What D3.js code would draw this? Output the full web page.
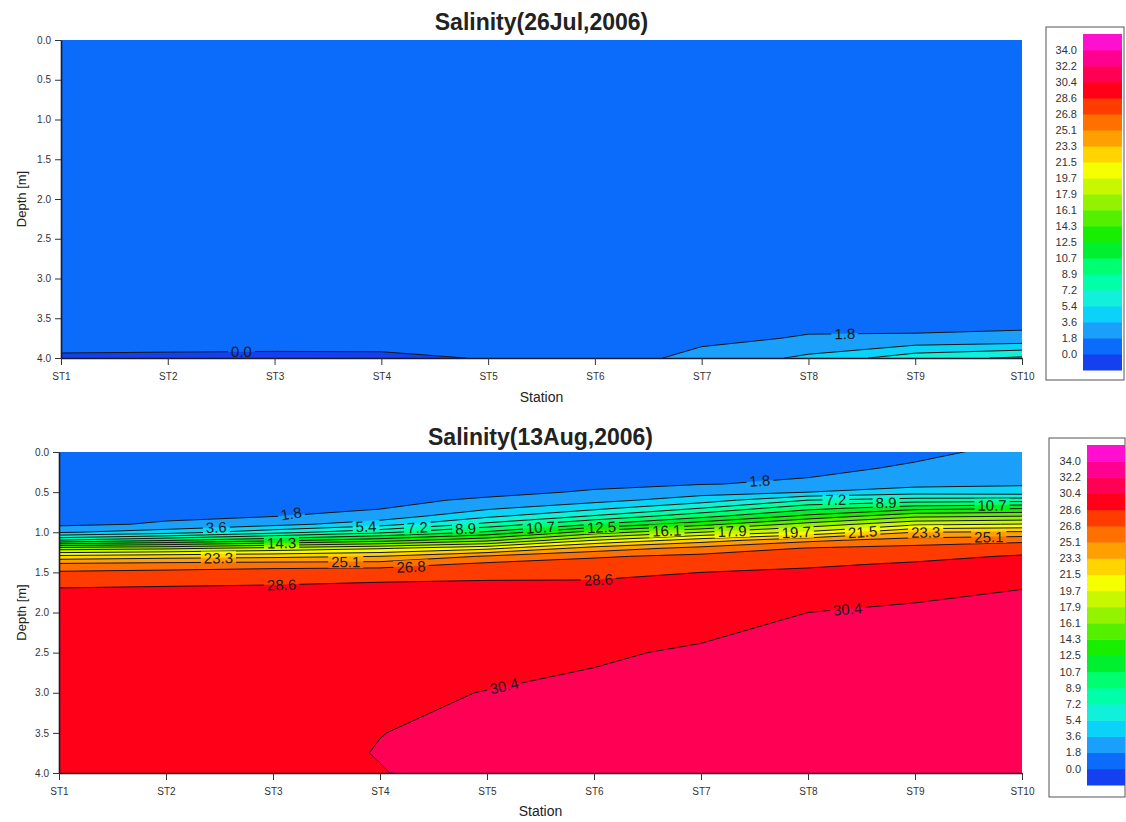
<!DOCTYPE html>
<html>
<head>
<meta charset="utf-8">
<script src="https://cdn.jsdelivr.net/npm/d3@7"></script>
<style>
body { margin: 0; background: #fff; }
text { font-family: "Liberation Sans", Arial, sans-serif; }
</style>
</head>
<body>
<div class="chart"></div>
<script>
// Chart size
var svgWidth = 1126;
var svgHeight = 822;

// Stations along the section and sampled depths (m)
var stations = ["ST1", "ST2", "ST3", "ST4", "ST5", "ST6", "ST7", "ST8", "ST9", "ST10"];
var depths = [0, 0.2, 0.4, 0.5, 0.6, 0.7, 0.8, 0.9, 1.0, 1.1, 1.2, 1.3, 1.4, 1.5, 1.7, 2.0, 2.5, 3.0, 3.5, 3.75, 4.0];
var depthTicks = [0, 0.5, 1.0, 1.5, 2.0, 2.5, 3.0, 3.5, 4.0];

// Contour levels and the fill of each band (below 0.0 ... above 34.0)
var levels = [0.0, 1.8, 3.6, 5.4, 7.2, 8.9, 10.7, 12.5, 14.3, 16.1, 17.9, 19.7, 21.5, 23.3, 25.1, 26.8, 28.6, 30.4, 32.2, 34.0];
var levelColors = ["#1440f0", "#0b6cfb", "#1aa0fa", "#0ad2f8", "#10f0da", "#00ffa8", "#00ff70", "#00f030",
  "#18ee00", "#55f000", "#92f200", "#c8f800", "#f5ff00", "#ffd400", "#ffa000", "#ff7000",
  "#ff3c00", "#ff0018", "#ff0055", "#ff0090", "#ff10d0"];

// Salinity, one column per station, values at the depths above (26 Jul 2006)
var salinityJul = [
  [0.9, 0.9, 0.9, 0.9, 0.9, 0.9, 0.9, 0.9, 0.9, 0.9, 0.9, 0.9, 0.9, 0.9, 0.9, 0.9, 0.9, 0.85, 0.8, 0.6, -0.2],
  [0.9, 0.9, 0.9, 0.9, 0.9, 0.9, 0.9, 0.9, 0.9, 0.9, 0.9, 0.9, 0.9, 0.9, 0.9, 0.9, 0.9, 0.85, 0.8, 0.6, -0.25],
  [0.9, 0.9, 0.9, 0.9, 0.9, 0.9, 0.9, 0.9, 0.9, 0.9, 0.9, 0.9, 0.9, 0.9, 0.9, 0.9, 0.9, 0.85, 0.8, 0.6, -0.3],
  [0.9, 0.9, 0.9, 0.9, 0.9, 0.9, 0.9, 0.9, 0.9, 0.9, 0.9, 0.9, 0.9, 0.9, 0.9, 0.9, 0.9, 0.85, 0.8, 0.65, -0.3],
  [0.9, 0.9, 0.9, 0.9, 0.9, 0.9, 0.9, 0.9, 0.9, 0.9, 0.9, 0.9, 0.9, 0.9, 0.9, 0.9, 0.9, 0.9, 0.9, 0.8, 0.08],
  [0.9, 0.9, 0.9, 0.9, 0.9, 0.9, 0.9, 0.9, 0.9, 0.9, 0.9, 0.9, 0.9, 0.9, 0.9, 0.9, 0.9, 0.9, 0.95, 1.0, 1.1],
  [0.9, 0.9, 0.9, 0.9, 0.9, 0.9, 0.9, 0.9, 0.9, 0.9, 0.9, 0.9, 0.9, 0.9, 0.9, 0.95, 1.0, 1.1, 1.2, 1.5, 2.2],
  [0.9, 0.9, 0.9, 0.9, 0.9, 0.9, 0.9, 0.9, 0.9, 0.9, 0.9, 0.9, 0.9, 0.9, 0.9, 1.0, 1.1, 1.2, 1.4, 1.9, 4.0],
  [0.9, 0.9, 0.9, 0.9, 0.9, 0.9, 0.9, 0.9, 0.9, 0.9, 0.9, 0.9, 0.9, 0.9, 0.9, 0.95, 1.0, 1.1, 1.2, 2.0, 6.5],
  [0.9, 0.9, 0.9, 0.9, 0.9, 0.9, 0.9, 0.9, 0.9, 0.9, 0.9, 0.9, 0.9, 0.9, 0.9, 0.95, 1.0, 1.1, 1.2, 2.2, 7.5]
];

// Salinity (13 Aug 2006)
var salinityAug = [
  [1.0, 1.0, 1.1, 1.1, 1.2, 1.2, 1.3, 1.4, 3.4, 9.0, 17.0, 22.0, 25.5, 27.0, 28.65, 29.2, 29.6, 29.7, 29.85, 29.9, 30.0],
  [1.0, 1.0, 1.1, 1.2, 1.3, 1.4, 1.5, 2.0, 4.5, 10.5, 17.5, 22.5, 25.8, 27.2, 28.8, 29.3, 29.7, 29.9, 30.0, 30.0, 30.1],
  [1.0, 1.0, 1.2, 1.3, 1.4, 1.6, 1.75, 3.0, 6.5, 12.0, 18.5, 22.8, 26.0, 27.5, 28.9, 29.4, 29.8, 30.0, 30.05, 29.95, 30.15],
  [1.0, 1.1, 1.3, 1.4, 1.55, 1.7, 2.6, 4.6, 8.5, 13.5, 19.5, 23.3, 26.0, 27.8, 29.1, 29.6, 29.9, 30.25, 30.38, 30.45, 30.35],
  [1.1, 1.2, 1.4, 1.55, 1.95, 3.3, 5.0, 7.7, 11.0, 15.6, 21.0, 25.3, 27.2, 28.1, 29.1, 29.55, 30.1, 30.42, 30.7, 30.8, 30.9],
  [1.2, 1.3, 1.6, 1.9, 3.0, 4.9, 7.4, 10.7, 15.2, 19.7, 24.1, 26.6, 27.5, 28.2, 29.05, 29.55, 30.25, 30.65, 30.95, 31.05, 31.15],
  [1.3, 1.45, 1.75, 2.9, 4.5, 7.2, 10.1, 13.6, 17.9, 22.4, 25.7, 27.2, 27.9, 28.6, 29.3, 29.9, 30.55, 30.9, 31.15, 31.25, 31.35],
  [1.4, 1.5, 2.0, 3.6, 7.2, 10.1, 13.0, 16.8, 20.0, 24.7, 26.9, 27.6, 28.35, 28.9, 29.6, 30.4, 30.85, 31.1, 31.3, 31.4, 31.5],
  [1.55, 1.95, 3.0, 4.6, 8.0, 11.8, 15.7, 19.3, 23.3, 25.9, 27.3, 28.15, 28.8, 29.25, 29.95, 30.7, 31.05, 31.25, 31.45, 31.55, 31.6],
  [2.1, 2.6, 3.4, 4.4, 8.2, 12.3, 16.1, 19.8, 23.6, 26.4, 27.8, 28.75, 29.2, 29.55, 30.38, 30.85, 31.15, 31.35, 31.55, 31.65, 31.7]
];

// Contour labels: [level, station position]
var labelsJul = [[0.0, 2.69], [1.8, 8.34]];
var labelsAug = [[1.8, 3.17], [1.8, 7.55], [3.6, 2.47], [5.4, 3.87], [7.2, 4.35], [8.9, 4.8], [10.7, 5.5],
  [12.5, 6.07], [14.3, 3.08], [16.1, 6.68], [17.9, 7.29], [19.7, 7.89], [21.5, 8.51], [23.3, 2.49],
  [23.3, 9.1], [25.1, 3.68], [25.1, 9.69], [26.8, 4.29], [28.6, 3.08], [28.6, 6.04], [30.4, 5.16],
  [30.4, 8.37], [7.2, 8.26], [8.9, 8.73], [10.7, 9.72]];

var panels = [
  {id: "jul", title: "Salinity(26Jul,2006)", grid: salinityJul, labels: labelsJul,
   left: 61, right: 1022, top: 40, bottom: 358, titleY: 30, stationY: 402,
   legend: {x: 1046, y: 27, w: 78, h: 353, barX: 1083, barW: 39, barTop: 34, barBottom: 370}},
  {id: "aug", title: "Salinity(13Aug,2006)", grid: salinityAug, labels: labelsAug,
   left: 59, right: 1022, top: 452, bottom: 773, titleY: 445, stationY: 816,
   legend: {x: 1049, y: 438, w: 76, h: 359, barX: 1087, barW: 38, barTop: 445, barBottom: 785}}
];

var svg = d3.select(".chart").append("svg")
  .attr("width", svgWidth)
  .attr("height", svgHeight);

var nx = stations.length;
var ny = depths.length;
var fmt = d3.format(".1f");

// grid index -> station number / depth
var idxX = d3.scaleLinear().domain([0, nx - 1]).range([1, nx]);
var idxY = d3.scaleLinear().domain(d3.range(ny)).range(depths);

panels.forEach(function(p) {
  var x = d3.scaleLinear().domain([1, nx]).range([p.left, p.right]);
  var y = d3.scaleLinear().domain([0, 4]).range([p.top, p.bottom]);
  var xAxisScale = d3.scalePoint().domain(stations).range([p.left, p.right]);

  // row-major values for d3.contours
  var values = [];
  for (var j = 0; j < ny; j++) {
    for (var i = 0; i < nx; i++) values.push(p.grid[i][j]);
  }
  var contours = d3.contours().size([nx, ny]).thresholds(levels)(values);

  var proj = d3.geoTransform({
    point: function(px, py) {
      this.stream.point(x(idxX(px - 0.5)), y(idxY(py - 0.5)));
    }
  });
  var path = d3.geoPath(proj);

  var defs = svg.append("defs");
  defs.append("clipPath").attr("id", "clip-" + p.id)
    .append("rect")
    .attr("x", p.left).attr("y", p.top)
    .attr("width", p.right - p.left).attr("height", p.bottom - p.top);

  var plot = svg.append("g").attr("clip-path", "url(#clip-" + p.id + ")");

  plot.append("rect")
    .attr("x", p.left).attr("y", p.top)
    .attr("width", p.right - p.left).attr("height", p.bottom - p.top)
    .attr("fill", levelColors[0]);

  plot.append("g").selectAll("path")
    .data(contours)
    .enter().append("path")
    .attr("d", path)
    .attr("fill", function(d, k) { return levelColors[k + 1]; })
    .attr("stroke", function(d, k) { return levelColors[k + 1]; })
    .attr("stroke-width", 0.5);

  // depth where a level crosses the (interpolated) profile at a station position
  function depthOfLevel(level, st) {
    var i0 = Math.max(0, Math.min(nx - 2, Math.floor(st - 1)));
    var f = (st - 1) - i0;
    var col = depths.map(function(d, jj) {
      return p.grid[i0][jj] * (1 - f) + p.grid[i0 + 1][jj] * f;
    });
    for (var jj = 0; jj < ny - 1; jj++) {
      var a = col[jj] - level, b = col[jj + 1] - level;
      if (a === 0) return depths[jj];
      if (a * b < 0) return depths[jj] + (depths[jj + 1] - depths[jj]) * a / (a - b);
    }
    return null;
  }

  // contour labels
  var labelG = plot.append("g");
  var mask = defs.append("mask").attr("id", "mask-" + p.id)
    .attr("maskUnits", "userSpaceOnUse")
    .attr("x", 0).attr("y", 0).attr("width", svgWidth).attr("height", svgHeight);
  mask.append("rect").attr("x", 0).attr("y", 0)
    .attr("width", svgWidth).attr("height", svgHeight).attr("fill", "#fff");

  p.labels.forEach(function(lb) {
    var dep = depthOfLevel(lb[0], lb[1]);
    if (dep === null) return;
    var d1 = depthOfLevel(lb[0], lb[1] - 0.12);
    var d2 = depthOfLevel(lb[0], lb[1] + 0.12);
    var ang = 0;
    if (d1 !== null && d2 !== null) {
      ang = Math.atan2(y(d2) - y(d1), x(lb[1] + 0.12) - x(lb[1] - 0.12)) * 180 / Math.PI;
    }
    var tr = "translate(" + x(lb[1]) + "," + y(dep) + ") rotate(" + ang + ")";
    var t = labelG.append("text")
      .attr("transform", tr)
      .attr("text-anchor", "middle")
      .attr("dy", "0.36em")
      .style("font-size", "15px")
      .attr("fill", "#1a1a1a")
      .text(fmt(lb[0]));
    var bb = t.node().getBBox();
    mask.append("rect")
      .attr("transform", tr)
      .attr("x", bb.x - 3).attr("y", bb.y + 2)
      .attr("width", bb.width + 6).attr("height", bb.height - 4)
      .attr("fill", "#000");
  });

  // contour lines
  plot.insert("g", function() { return labelG.node(); })
    .attr("mask", "url(#mask-" + p.id + ")")
    .selectAll("path")
    .data(contours)
    .enter().append("path")
    .attr("d", path)
    .attr("fill", "none")
    .attr("stroke", "#141414")
    .attr("stroke-width", 1);

  // axes
  var yAxis = svg.append("g")
    .attr("transform", "translate(" + p.left + ",0)")
    .call(d3.axisLeft(y).tickValues(depthTicks).tickFormat(fmt).tickSize(6).tickSizeOuter(0).tickPadding(4));
  var xAxis = svg.append("g")
    .attr("transform", "translate(0," + p.bottom + ")")
    .call(d3.axisBottom(xAxisScale).tickSize(7).tickSizeOuter(0).tickPadding(8));
  [xAxis, yAxis].forEach(function(ax) {
    ax.selectAll("text").style("font-size", "10px").attr("fill", "#333");
    ax.selectAll("line").attr("stroke", "#333");
    ax.select(".domain").attr("stroke", "#1a1a2a").attr("stroke-width", 1.6);
  });

  // titles
  svg.append("text")
    .attr("x", (p.left + p.right) / 2)
    .attr("y", p.titleY)
    .attr("text-anchor", "middle")
    .style("font-size", "23px")
    .style("font-weight", "bold")
    .attr("fill", "#222")
    .text(p.title);

  svg.append("text")
    .attr("x", (p.left + p.right) / 2)
    .attr("y", p.stationY)
    .attr("text-anchor", "middle")
    .style("font-size", "14px")
    .attr("fill", "#222")
    .text("Station");

  svg.append("text")
    .attr("transform", "translate(26," + (p.top + p.bottom) / 2 + ") rotate(-90)")
    .attr("text-anchor", "middle")
    .style("font-size", "13px")
    .attr("fill", "#222")
    .text("Depth [m]");

  // legend
  var lg = p.legend;
  svg.append("rect")
    .attr("x", lg.x).attr("y", lg.y)
    .attr("width", lg.w).attr("height", lg.h)
    .attr("fill", "#fff")
    .attr("stroke", "#555")
    .attr("stroke-width", 1);

  var band = d3.scaleBand()
    .domain(d3.range(levelColors.length))
    .range([lg.barBottom, lg.barTop]);

  svg.append("g").selectAll("rect")
    .data(levelColors)
    .enter().append("rect")
    .attr("x", lg.barX)
    .attr("y", function(d, k) { return band(k); })
    .attr("width", lg.barW)
    .attr("height", band.bandwidth() + 0.5)
    .attr("fill", function(d) { return d; });

  svg.append("g").selectAll("text")
    .data(levels)
    .enter().append("text")
    .attr("x", lg.barX - 6)
    .attr("y", function(d, k) { return band(k); })
    .attr("dy", "0.35em")
    .attr("text-anchor", "end")
    .style("font-size", "11px")
    .attr("fill", "#333")
    .text(function(d) { return fmt(d); });
});
</script>
</body>
</html>
